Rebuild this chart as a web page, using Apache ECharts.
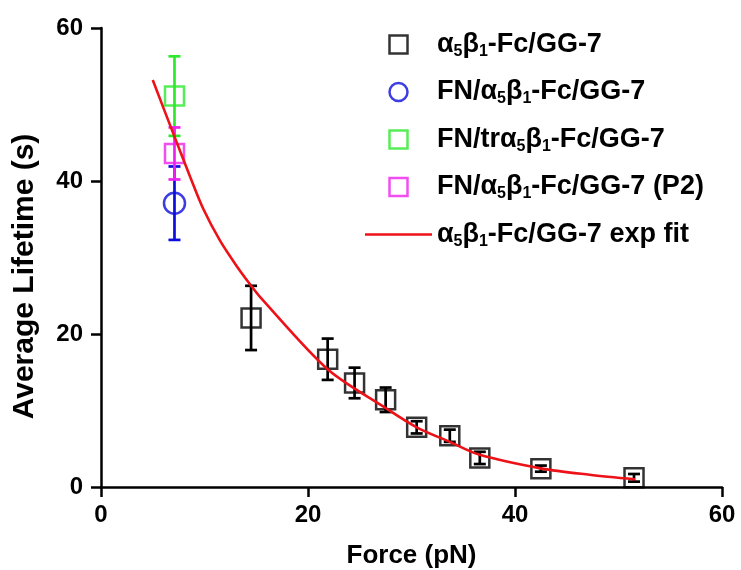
<!DOCTYPE html>
<html>
<head>
<meta charset="utf-8">
<script src="https://cdn.jsdelivr.net/npm/echarts@6/dist/echarts.min.js"></script>
<style>
  html, body { margin: 0; padding: 0; background: #fff; }
  #chart { width: 741px; height: 570px; }
</style>
</head>
<body>
<div id="chart"></div>
<script>
// a5b1-Fc/GG-7 lifetimes
var forceBlack = [14.5, 21.9, 24.5, 27.5, 30.5, 33.7, 36.6, 42.5, 51.5];
var lifeBlack = [22.1, 16.7, 13.6, 11.4, 7.8, 6.7, 3.8, 2.4, 1.2];
var errBlack = [4.2, 2.7, 2.0, 1.6, 0.8, 0.8, 0.8, 0.4, 0.5];

// single-force measurements
var forceBlue = [7.1], lifeBlue = [37.1], errBlue = [4.8];
var forceGreen = [7.1], lifeGreen = [51.1], errGreen = [5.2];
var forceMagenta = [7.1], lifeMagenta = [43.6], errMagenta = [3.4];

// exp fit curve
var fitForce = [5.0, 7.1, 8.6, 9.9, 11.5, 13.1, 14.4, 15.4, 21.9, 27.3, 30.5, 33.7, 36.6, 42.6, 47.2, 51.6];
var fitLife = [53.2, 45.8, 40.6, 36.3, 32.2, 28.9, 26.5, 24.8, 15.4, 10.5, 7.8, 5.9, 4.2, 2.4, 1.6, 1.0];

var xTicks = [0, 20, 40, 60];
var yTicks = [0, 20, 40, 60];

var names = ['α₅β₁-Fc/GG-7', 'FN/α₅β₁-Fc/GG-7', 'FN/trα₅β₁-Fc/GG-7', 'FN/α₅β₁-Fc/GG-7 (P2)', 'α₅β₁-Fc/GG-7 exp fit'];
var colors = ['#000000', '#0c0cdc', '#2ee82e', '#ee22ee', '#ec1218'];

var font = '"Liberation Sans", Arial, Helvetica, sans-serif';
var squareIcon = 'path://M0,0H10V10H0Z';
var lineIcon = 'path://M0,0H67V2.6H0Z';

function pts(xs, ys) {
  return xs.map(function (x, i) { return [x, ys[i]]; });
}
function bars(xs, ys, es) {
  return xs.map(function (x, i) { return [x, ys[i] - es[i], ys[i] + es[i]]; });
}

function errorBar(color) {
  return function (params, api) {
    var top = api.coord([api.value(0), api.value(2)]);
    var bot = api.coord([api.value(0), api.value(1)]);
    var w = 6;
    var st = { stroke: color, lineWidth: 2.7 };
    return {
      type: 'group',
      children: [
        { type: 'line', shape: { x1: top[0], y1: top[1], x2: bot[0], y2: bot[1] }, style: st },
        { type: 'line', shape: { x1: top[0] - w, y1: top[1], x2: top[0] + w, y2: top[1] }, style: st },
        { type: 'line', shape: { x1: bot[0] - w, y1: bot[1], x2: bot[0] + w, y2: bot[1] }, style: st }
      ]
    };
  };
}

function errSeries(data, color) {
  return {
    type: 'custom',
    name: 'err-' + color,
    renderItem: errorBar(color),
    data: data,
    encode: { x: 0, y: [1, 2] },
    clip: false,
    silent: true,
    z: 3
  };
}

function markSeries(name, data, color, symbol, size) {
  return {
    type: 'scatter',
    name: name,
    data: data,
    symbol: symbol,
    symbolSize: size,
    itemStyle: { color: 'transparent', borderColor: color, borderWidth: 2.5 },
    z: 4
  };
}

var chart = echarts.init(document.getElementById('chart'));

var axisCommon = {
  type: 'value',
  min: 0,
  max: 60,
  interval: 20,
  nameLocation: 'middle',
  axisLine: { show: true, lineStyle: { color: '#000', width: 2.5 } },
  axisTick: { show: true, inside: false, length: 10, lineStyle: { color: '#000', width: 2.5 } },
  splitLine: { show: false }
};

var option = {
  animation: false,
  backgroundColor: '#fff',
  grid: { left: 101, right: 19, top: 28, bottom: 83, containLabel: false, outerBoundsMode: 'none' },
  xAxis: Object.assign({}, axisCommon, {
    name: 'Force (pN)',
    nameGap: 56,
    nameTextStyle: { fontFamily: font, fontWeight: 'bold', fontSize: 26, color: '#000' },
    axisLabel: {
      margin: 16, fontFamily: font, fontWeight: 'bold', fontSize: 24, color: '#000',
      formatter: function (v) { return xTicks.indexOf(v) >= 0 ? String(v) : ''; }
    }
  }),
  yAxis: Object.assign({}, axisCommon, {
    name: 'Average Lifetime (s)',
    nameGap: 61,
    nameTextStyle: { fontFamily: font, fontWeight: 'bold', fontSize: 30, color: '#000', padding: [0, 38, 0, 0] },
    axisLabel: {
      margin: 18, fontFamily: font, fontWeight: 'bold', fontSize: 24, color: '#000',
      formatter: function (v) { return yTicks.indexOf(v) >= 0 ? String(v) : ''; }
    }
  }),
  legend: {
    orient: 'vertical',
    left: 360,
    top: 26,
    itemWidth: 67,
    itemHeight: 18,
    itemGap: 19,
    symbolKeepAspect: true,
    data: [
      { name: names[0], icon: squareIcon, itemStyle: { color: 'transparent', borderColor: colors[0], borderWidth: 2.5 } },
      { name: names[1], icon: 'circle', itemStyle: { color: 'transparent', borderColor: colors[1], borderWidth: 2.5 } },
      { name: names[2], icon: squareIcon, itemStyle: { color: 'transparent', borderColor: colors[2], borderWidth: 2.5 } },
      { name: names[3], icon: squareIcon, itemStyle: { color: 'transparent', borderColor: colors[3], borderWidth: 2.5 } },
      { name: names[4], icon: lineIcon, itemStyle: { color: colors[4], borderWidth: 0 } }
    ],
    formatter: function (name) {
      return name.split(/([₅₁])/).filter(function (s) { return s !== ''; }).map(function (s) {
        if (s === '₅') return '{s|5}';
        if (s === '₁') return '{s|1}';
        return '{n|' + s + '}';
      }).join('');
    },
    textStyle: {
      rich: {
        n: { fontFamily: font, fontWeight: 'bold', fontSize: 27, color: '#000', lineHeight: 30 },
        s: { fontFamily: font, fontWeight: 'bold', fontSize: 16, color: '#000', lineHeight: 4, verticalAlign: 'bottom' }
      }
    }
  },
  series: [
    errSeries(bars(forceBlack, lifeBlack, errBlack), colors[0]),
    errSeries(bars(forceBlue, lifeBlue, errBlue), colors[1]),
    errSeries(bars(forceGreen, lifeGreen, errGreen), colors[2]),
    errSeries(bars(forceMagenta, lifeMagenta, errMagenta), colors[3]),
    markSeries(names[0], pts(forceBlack, lifeBlack), colors[0], 'rect', 19),
    markSeries(names[1], pts(forceBlue, lifeBlue), colors[1], 'circle', 21),
    markSeries(names[2], pts(forceGreen, lifeGreen), colors[2], 'rect', 19),
    markSeries(names[3], pts(forceMagenta, lifeMagenta), colors[3], 'rect', 19),
    {
      type: 'line',
      name: names[4],
      data: pts(fitForce, fitLife),
      smooth: 0.3,
      showSymbol: false,
      symbol: 'none',
      lineStyle: { color: colors[4], width: 2.6 },
      itemStyle: { color: colors[4] },
      z: 5
    }
  ]
};

chart.setOption(option);
</script>
</body>
</html>
